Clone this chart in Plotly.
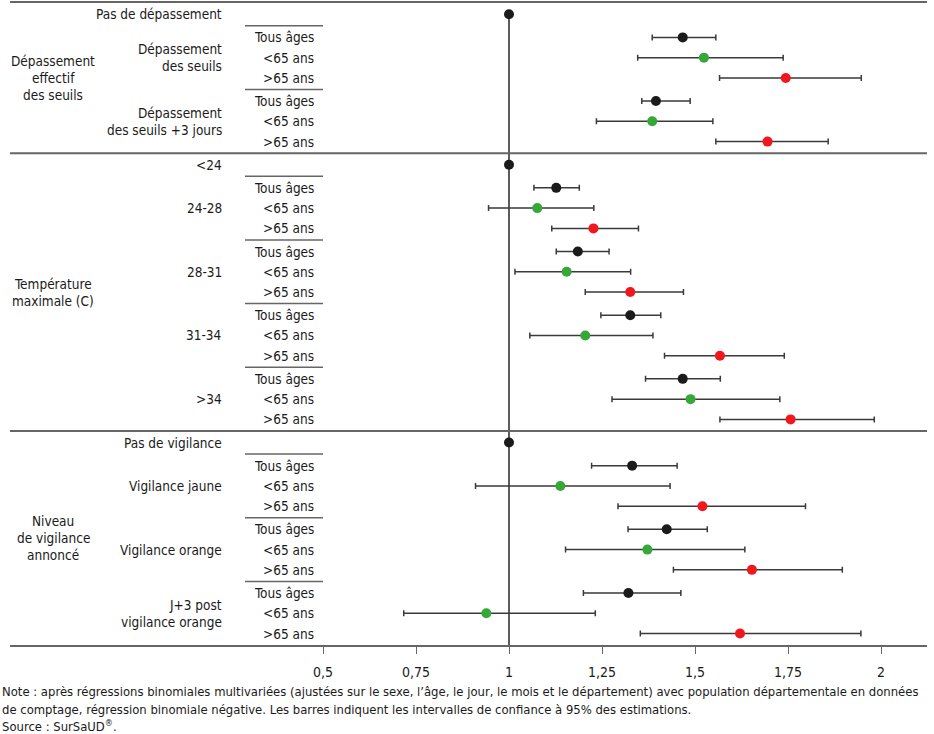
import plotly.graph_objects as go

# ---------------- data ----------------
ages = ["Tous âges", "<65 ans", ">65 ans"]
age_colors = ["#1b1b1b", "#35a838", "#f2161d"]

section_labels = ["Dépassement\neffectif\ndes seuils", "Température\nmaximale (C)", "Niveau\nde vigilance\nannoncé"]
ref_labels = ["Pas de dépassement", "<24", "Pas de vigilance"]
ref_value = 1.0

seuil_groups = ["Dépassement\ndes seuils", "Dépassement\ndes seuils +3 jours"]
seuil_est = [1.467, 1.524, 1.744, 1.395, 1.385, 1.695]
seuil_lo = [1.385, 1.346, 1.566, 1.357, 1.235, 1.556]
seuil_hi = [1.556, 1.737, 1.947, 1.487, 1.548, 1.858]

temp_groups = ["24-28", "28-31", "31-34", ">34"]
temp_est = [1.127, 1.076, 1.227, 1.185, 1.155, 1.326, 1.326, 1.205, 1.567, 1.467, 1.488, 1.757]
temp_lo = [1.067, 0.945, 1.115, 1.127, 1.016, 1.205, 1.247, 1.056, 1.418, 1.367, 1.277, 1.567]
temp_hi = [1.189, 1.228, 1.348, 1.269, 1.327, 1.469, 1.408, 1.387, 1.740, 1.568, 1.728, 1.982]

vig_groups = ["Vigilance jaune", "Vigilance orange", "J+3 post\nvigilance orange"]
vig_est = [1.331, 1.138, 1.520, 1.424, 1.372, 1.653, 1.321, 0.939, 1.621]
vig_lo = [1.222, 0.910, 1.293, 1.320, 1.152, 1.442, 1.200, 0.717, 1.353]
vig_hi = [1.452, 1.433, 1.797, 1.533, 1.634, 1.896, 1.462, 1.232, 1.946]

tick_vals = [0.5, 0.75, 1, 1.25, 1.5, 1.75, 2]
tick_text = ["0,5", "0,75", "1", "1,25", "1,5", "1,75", "2"]

note_lines = [
    "Note : après régressions binomiales multivariées (ajustées sur le sexe, l’âge, le jour, le mois et le département) avec population départementale en données",
    "de comptage, régression binomiale négative. Les barres indiquent les intervalles de confiance à 95% des estimations.",
    "Source : SurSaUD<sup>®</sup>.",
]

sections = [
    (section_labels[0], ref_labels[0], seuil_groups, seuil_est, seuil_lo, seuil_hi),
    (section_labels[1], ref_labels[1], temp_groups, temp_est, temp_lo, temp_hi),
    (section_labels[2], ref_labels[2], vig_groups, vig_est, vig_lo, vig_hi),
]

# ---------------- layout geometry ----------------
W, H = 934, 734
PLOT_L, PLOT_R, PLOT_T = 10, 927, 1
X1_PX, UNIT_PX = 509, 372          # pixel of value 1 and pixels per unit
ROW, GAP = 20.35, 23.2
PAD_T, PAD_B = 11.3, 11.5
FONT = "DejaVu Sans Condensed, Liberation Sans Narrow, Arial Narrow, sans-serif"
FS = 13.5
FS_NOTE = 12.95
TXT = "#1a1a1a"
LINE = "#666666"
LINE_SP = 17

def px_to_val(px):
    return 1 + (px - X1_PX) / UNIT_PX

def px_to_paper(px):
    return (px - PLOT_L) / (PLOT_R - PLOT_L)

# compute row positions
y = PAD_T
first = True
rows = []          # (y, age_index or None, est, lo, hi)
sec_info = []
for s_label, r_label, groups, est, lo, hi in sections:
    if not first:
        y += GAP
    first = False
    ref_y = y
    s_start = y
    rows.append((y, None, ref_value, None, None))
    ginfo = []
    k = 0
    for g in groups:
        g_prev = y
        ys = []
        for a in range(len(ages)):
            y += GAP if a == 0 else ROW
            ys.append(y)
            rows.append((y, a, est[k], lo[k], hi[k]))
            k += 1
        ginfo.append((ys, g_prev))
    sec_info.append((s_start, y, ref_y, ginfo))

plot_h = y + PAD_B
mb = H - PLOT_T - plot_h

fig = go.Figure()

# reference points
ref_ys = [r[0] for r in rows if r[1] is None]
fig.add_trace(go.Scatter(
    x=[ref_value] * len(ref_ys), y=ref_ys, mode="markers",
    marker=dict(size=10, color=age_colors[0]), showlegend=False, hoverinfo="skip"))

for a, name in enumerate(ages):
    rs = [r for r in rows if r[1] == a]
    fig.add_trace(go.Scatter(
        x=[r[2] for r in rs], y=[r[0] for r in rs], mode="markers", name=name,
        marker=dict(size=10, color=age_colors[a]),
        error_x=dict(type="data", symmetric=False,
                     array=[r[4] - r[2] for r in rs],
                     arrayminus=[r[2] - r[3] for r in rs],
                     color="#3a3a3a", thickness=1.5, width=3),
        showlegend=False, hoverinfo="skip"))

shapes = []
annotations = []

# vertical reference line
shapes.append(dict(type="line", xref="x", yref="y", x0=1, x1=1, y0=ref_ys[0], y1=plot_h,
                   line=dict(color="#333333", width=1.6), layer="below"))

def add_text(text, px, yc, anchor, size=FS):
    lines = text.split("\n")
    n = len(lines)
    for i, t in enumerate(lines):
        annotations.append(dict(
            text=t, xref="paper", yref="y", x=px_to_paper(px), y=yc + (i - (n - 1) / 2) * LINE_SP,
            xanchor=anchor, yanchor="middle", showarrow=False,
            font=dict(family=FONT, size=size, color=TXT)))

for si, (s_label, r_label, groups, est, lo, hi) in enumerate(sections):
    s_start, s_end, ref_y, ginfo = sec_info[si]
    add_text(s_label, 53, (s_start + s_end) / 2, "center")
    add_text(r_label, 224, ref_y, "right")
    for gi, g in enumerate(groups):
        ys, g_prev = ginfo[gi]
        add_text(g, 224, ys[1], "right")
        for a, name in enumerate(ages):
            add_text(name, 316, ys[a], "right")
        ymid = (g_prev + ys[0]) / 2
        shapes.append(dict(type="line", xref="paper", yref="y",
                           x0=px_to_paper(245), x1=px_to_paper(323), y0=ymid, y1=ymid,
                           line=dict(color=LINE, width=1.5)))
    if si < len(sections) - 1:
        ysep = s_end + GAP / 2
        shapes.append(dict(type="line", xref="paper", yref="y", x0=0, x1=1, y0=ysep, y1=ysep,
                           line=dict(color=LINE, width=2)))

# notes
note_y = [692, 710, 727]
for t, py in zip(note_lines, note_y):
    annotations.append(dict(
        text=t, xref="paper", yref="paper", x=px_to_paper(0), y=(PLOT_T + plot_h - py) / plot_h,
        xanchor="left", yanchor="middle", showarrow=False,
        font=dict(family=FONT, size=FS_NOTE, color=TXT)))

fig.update_layout(
    width=W, height=H,
    margin=dict(l=PLOT_L, r=W - PLOT_R, t=PLOT_T, b=mb, pad=0),
    paper_bgcolor="white", plot_bgcolor="white",
    shapes=shapes, annotations=annotations,
    font=dict(family=FONT, size=FS, color=TXT),
    xaxis=dict(range=[px_to_val(PLOT_L), px_to_val(PLOT_R)], tickvals=tick_vals, ticktext=tick_text,
               showgrid=False, zeroline=False, showline=True, mirror=True, linecolor=LINE, linewidth=2,
               ticks="outside", ticklen=7, tickcolor=LINE, tickwidth=1.2, ticklabelstandoff=6,
               tickfont=dict(family=FONT, size=14, color=TXT), fixedrange=True),
    yaxis=dict(range=[plot_h, 0], visible=False, showgrid=False, zeroline=False, fixedrange=True),
)

fig.write_html("out.html", config={"displayModeBar": False},
               post_script="document.body.style.margin='0px';")
